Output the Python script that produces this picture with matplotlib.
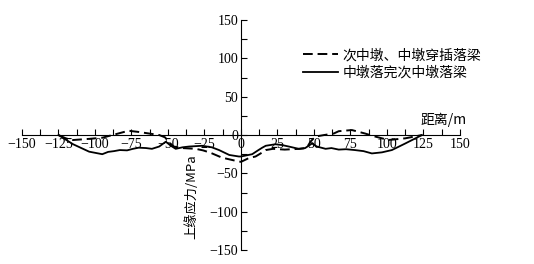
import matplotlib
matplotlib.use("Agg")
import matplotlib.pyplot as plt
from matplotlib.ticker import MultipleLocator

plt.rcParams['font.family'] = ['Liberation Serif', 'Noto Sans CJK SC', 'DejaVu Sans']
plt.rcParams['axes.unicode_minus'] = True

# ---- data ----
dash_label = "次中墩、中墩穿插落梁"
solid_label = "中墩落完次中墩落梁"

dash_x = [-125, -120, -115, -104, -95, -86, -77, -70, -63, -56, -52, -49, -46, -40,
          -31, -26, -21, -13, -5, 0, 5.5, 10, 13.5, 17, 22, 30, 40, 45, 47.6, 51,
          57, 63.6, 67, 76, 85, 92, 101, 112.6, 124]
dash_y = [0, -4.3, -6.5, -5, -3.5, 1, 5.6, 4, 2, 0, -3, -10, -15, -17,
          -18, -20, -23, -29.5, -33, -35, -30, -28, -24, -19.6, -18, -19, -18, -17, -8.7, -2,
          0, 2, 5, 6.5, 2, -2, -6.5, -4.3, 0]

solid_x = [-125, -115, -104, -95, -91, -87, -83, -78, -74, -70, -65, -61, -56, -51.5,
           -48, -44.7, -40, -35.5, -31, -26.6, -20, -15, -8, -1.4, 0, 7.7, 12, 14.6,
           17, 23.7, 28, 32.8, 39.6, 44, 48.7, 52, 58, 62, 67, 72, 78, 84, 89.7, 96.6,
           103.4, 112.6, 124]
solid_y = [0, -12, -21.7, -25, -22, -21, -19.6, -20, -18, -16.5, -17, -18, -15, -8.7,
           -14, -18, -16, -15, -14.5, -14, -16, -19.6, -26, -28, -28, -25, -19.6, -16.5,
           -14, -12, -13, -15, -18, -17, -11, -15, -18, -17, -19, -18.5, -19.6, -21, -24, -22.6,
           -19.6, -11, 0]

xticks = [-150, -125, -100, -75, -50, -25, 0, 25, 50, 75, 100, 125, 150]
yticks = [-150, -100, -50, 0, 50, 100, 150]
xlabel = "距离/m"
ylabel = "上缘应力/MPa"

# ---- figure ----
fig = plt.figure(figsize=(5.34, 2.64), dpi=100)
ax = fig.add_axes([0.0412, 0.053, 0.820, 0.871])

ax.plot(dash_x, dash_y, color='black', lw=1.4, linestyle=(0, (5, 2.5)), label=dash_label)
ax.plot(solid_x, solid_y, color='black', lw=1.3, linestyle='-', label=solid_label)

ax.set_xlim(-150, 150)
ax.set_ylim(-150, 150)
ax.spines['left'].set_position(('data', 0))
ax.spines['bottom'].set_position(('data', 0))
ax.spines['right'].set_visible(False)
ax.spines['top'].set_visible(False)
for s in ('left', 'bottom'):
    ax.spines[s].set_linewidth(0.8)

ax.set_xticks(xticks)
ax.set_yticks(yticks)
ax.xaxis.set_minor_locator(MultipleLocator(12.5))
ax.yaxis.set_minor_locator(MultipleLocator(25))
ax.tick_params(axis='both', which='both', direction='in', labelsize=10, width=0.8)
ax.tick_params(axis='both', which='major', length=4, pad=2)
ax.tick_params(axis='both', which='minor', length=4)
ax.patch.set_alpha(0)

ax.text(139, 19.6, xlabel, ha='center', va='center', fontsize=10,
        family=['Noto Sans CJK SC', 'DejaVu Sans'])
ax.text(-34, -80, ylabel, ha='center', va='center', rotation=90, fontsize=9.5,
        family=['Noto Sans CJK SC', 'DejaVu Sans'])

leg = ax.legend(loc='upper left', bbox_to_anchor=(0.568, 0.818), bbox_transform=fig.transFigure,
                frameon=False, borderpad=0, borderaxespad=0, handlelength=2.5,
                handletextpad=0.35, labelspacing=0.25,
                prop={'family': ['Noto Sans CJK SC', 'DejaVu Sans'], 'size': 10})

fig.savefig("out.png", dpi=100)
